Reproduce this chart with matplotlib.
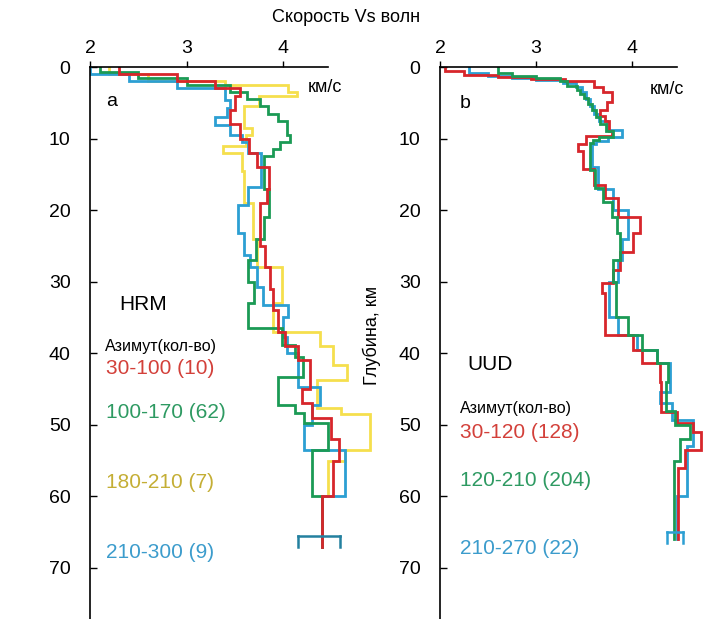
import numpy as np
import matplotlib
matplotlib.use("Agg")
import matplotlib.pyplot as plt

plt.rcParams['font.family'] = ['Liberation Sans', 'DejaVu Sans']

# ---- panel a (HRM): layer boundaries (km) and Vs per layer (km/s) ----
a_red_z = [0, 1, 2, 3, 4, 6, 8, 10, 12, 14, 17, 19, 25, 28, 31, 34, 37, 39, 41, 45, 47, 49, 52, 55, 60, 67]
a_red_v = [2.3, 2.9, 3.3, 3.55, 3.5, 3.45, 3.55, 3.65, 3.73, 3.85, 3.83, 3.76, 3.81, 3.87, 3.9, 3.95,
           4.02, 4.16, 4.28, 4.2, 4.3, 4.5, 4.58, 4.52, 4.4]

a_green_z = [0, 0.7, 1.5, 2.5, 3.5, 4.5, 5.5, 6.5, 7.5, 9.5, 10.5, 11.5, 12.5, 17, 21, 24, 27, 30, 33,
             36.5, 38.8, 40.5, 43.3, 47.2, 48.3, 49.7, 53.5, 60, 67]
a_green_v = [2.1, 2.5, 3.0, 3.45, 3.63, 3.76, 3.84, 3.95, 4.04, 4.07, 3.97, 3.9, 3.8, 3.85, 3.8, 3.72,
             3.64, 3.7, 3.64, 3.99, 4.12, 4.21, 3.95, 4.12, 4.22, 4.47, 4.3, 4.4]

a_yellow_z = [0, 1, 2, 2.5, 3.5, 4, 5.5, 8.5, 9.5, 11, 12, 14.5, 19, 24, 28, 33, 37, 39, 41.6, 43.7,
              47.6, 48.5, 53.5, 55, 60, 67]
a_yellow_v = [2.2, 2.6, 3.4, 4.05, 4.15, 3.75, 3.6, 3.68, 3.62, 3.38, 3.58, 3.6, 3.69, 3.73, 3.99, 3.9,
              4.38, 4.52, 4.66, 4.35, 4.6, 4.9, 4.64, 4.47, 4.4]

a_blue_z = [0, 1, 2, 3, 4.6, 5.7, 7, 8.1, 9.5, 10.5, 12, 16.8, 19.3, 23.2, 26.3, 28, 30.7, 33.3, 35,
            37.7, 40, 44.7, 47.2, 50, 53.5, 60, 67]
a_blue_v = [2.0, 2.4, 2.9, 3.4, 3.45, 3.42, 3.3, 3.45, 3.58, 3.64, 3.77, 3.64, 3.53, 3.6, 3.66, 3.73,
            3.79, 4.05, 4.0, 4.04, 4.16, 4.38, 4.3, 4.22, 4.64, 4.4]

a_err_depth = 65.6
a_err_v = [4.16, 4.59]

# ---- panel b (UUD) ----
b_red_z = [0, 0.5, 1.1, 1.4, 1.7, 2.0, 2.75, 3.45, 4.85, 6.0, 6.9, 7.6, 9.0, 9.7, 10.7, 11.8, 14.2,
           16.5, 18.3, 20.9, 23.2, 25.8, 28.3, 30.2, 31.6, 37.4, 39.5, 41.3, 44, 48.2, 49.7, 51, 53.5,
           56, 66]
b_red_v = [2.05, 2.25, 2.6, 2.95, 3.3, 3.6, 3.7, 3.79, 3.74, 3.67, 3.72, 3.76, 3.79, 3.52, 3.44, 3.49,
           3.6, 3.72, 3.85, 4.08, 4.01, 3.88, 3.8, 3.69, 3.72, 4.01, 4.1, 4.29, 4.3, 4.47, 4.64, 4.72,
           4.55, 4.48]

b_green_z = [0, 0.8, 1.2, 1.6, 2.0, 2.6, 3.2, 3.8, 4.4, 5.2, 6.0, 7.0, 8.0, 9.0, 9.8, 10.2, 10.6, 14.4,
             16.9, 18.9, 21, 23.2, 27, 30, 35, 37.5, 39.5, 41.3, 44, 48, 50, 52, 55, 66]
b_green_v = [2.6, 2.75, 3.0, 3.25, 3.32, 3.43, 3.46, 3.5, 3.54, 3.58, 3.62, 3.67, 3.73, 3.8, 3.66,
             3.59, 3.56, 3.61, 3.7, 3.79, 3.84, 3.87, 3.8, 3.83, 3.96, 4.1, 4.26, 4.38, 4.35, 4.45,
             4.6, 4.5, 4.44]

b_blue_z = [0, 0.9, 1.2, 1.5, 1.8, 2.2, 2.8, 3.5, 4.5, 5.5, 6.5, 7.5, 8.8, 9.8, 10.3, 10.8, 14, 17, 20,
            24, 27, 30, 35, 37.5, 39.5, 41.3, 45.4, 47, 49.3, 53, 60, 66]
b_blue_v = [2.3, 2.5, 2.75, 3.0, 3.28, 3.42, 3.48, 3.52, 3.56, 3.6, 3.66, 3.74, 3.9, 3.75, 3.63, 3.58,
            3.65, 3.8, 3.96, 3.9, 3.85, 3.76, 3.85, 4.05, 4.26, 4.4, 4.29, 4.42, 4.64, 4.57, 4.47]

b_err_depth = 65.0
b_err_v = [4.36, 4.53]

# legend text
a_station = "HRM"
a_labels = ["30-100 (10)", "100-170 (62)", "180-210 (7)", "210-300 (9)"]
b_station = "UUD"
b_labels = ["30-120 (128)", "120-210 (204)", "210-270 (22)"]

RED = '#d7262b'
GREEN = '#1b9a55'
YELLOW = '#f5df4d'
BLUE = '#2c9fd3'
ERR = '#23809f'

W, H = 711, 619


def px(x, y):
    # pixel position -> figure fraction
    return x / W, 1 - y / H


def step_xy(z, v):
    z = np.asarray(z, dtype=float)
    x = np.repeat(np.asarray(v, dtype=float), 2)
    y = np.column_stack([z[:-1], z[1:]]).ravel()
    return x, y


def style_axis(ax, xmax):
    ax.set_xlim(2, xmax)
    ax.set_ylim((H - 67) / 7.157, 0)
    ax.spines['right'].set_visible(False)
    ax.spines['bottom'].set_visible(False)
    ax.spines['top'].set_bounds(2, 4.47)
    for s in ('top', 'left'):
        ax.spines[s].set_linewidth(1.2)
    ax.xaxis.tick_top()
    ax.set_xticks([2, 3, 4])
    ax.set_yticks(np.arange(0, 71, 10))
    ax.tick_params(axis='x', direction='out', length=4, width=1, pad=3, labelsize=14)
    ax.tick_params(axis='y', direction='in', length=5, width=1, pad=14, labelsize=14)
    ax.patch.set_alpha(0)


def err_bar(ax, depth, v, color):
    ax.plot(v, [depth, depth], color=color, lw=1.8)
    for x in v:
        ax.plot([x, x], [depth, depth + 1.5], color=color, lw=1.8)


fig = plt.figure(figsize=(W / 100, H / 100), dpi=100)

ax_a = fig.add_axes([90 / W, 0, 289.5 / W, (H - 67) / H])
ax_b = fig.add_axes([440 / W, 0, 264 / W, (H - 67) / H])
style_axis(ax_a, 5.0)
style_axis(ax_b, 4.75)

lw = 2.0
for z, v, c in [(a_yellow_z, a_yellow_v, YELLOW), (a_blue_z, a_blue_v, BLUE),
                (a_green_z, a_green_v, GREEN), (a_red_z, a_red_v, RED)]:
    ax_a.plot(*step_xy(z, v), color=c, lw=lw, solid_joinstyle='miter')
err_bar(ax_a, a_err_depth, a_err_v, ERR)

for z, v, c in [(b_blue_z, b_blue_v, BLUE), (b_red_z, b_red_v, RED),
                (b_green_z, b_green_v, GREEN)]:
    ax_b.plot(*step_xy(z, v), color=c, lw=lw, solid_joinstyle='miter')
err_bar(ax_b, b_err_depth, b_err_v, BLUE)

# texts
fig.text(*px(346, 17), "Скорость Vs волн", fontsize=13, ha='center', va='center')
fig.text(*px(325, 88), "км/с", fontsize=13, ha='center', va='center')
fig.text(*px(667, 90), "км/с", fontsize=13, ha='center', va='center')
fig.text(*px(112, 102), "a", fontsize=14, ha='center', va='center')
fig.text(*px(465, 103), "b", fontsize=14, ha='center', va='center')
fig.text(*px(372, 335), "Глубина, км", fontsize=13, rotation=90, ha='center', va='center')

fig.text(*px(119, 305), a_station, fontsize=15, ha='left', va='center')
fig.text(*px(105, 347), "Азимут(кол-во)", fontsize=11.5, ha='left', va='center')
a_colors = ['#d3403a', '#2e9a62', '#c4ae35', '#3c9ccc']
a_ys = [368, 412, 482, 553]
for lab, c, y in zip(a_labels, a_colors, a_ys):
    fig.text(*px(106, y), lab, fontsize=15, color=c, ha='left', va='center')

fig.text(*px(467, 365), b_station, fontsize=15, ha='left', va='center')
fig.text(*px(460, 409), "Азимут(кол-во)", fontsize=11.5, ha='left', va='center')
b_colors = ['#d3403a', '#2e9a62', '#3c9ccc']
b_ys = [432, 480, 548]
for lab, c, y in zip(b_labels, b_colors, b_ys):
    fig.text(*px(460, y), lab, fontsize=15, color=c, ha='left', va='center')

fig.savefig("out.png", dpi=100)
